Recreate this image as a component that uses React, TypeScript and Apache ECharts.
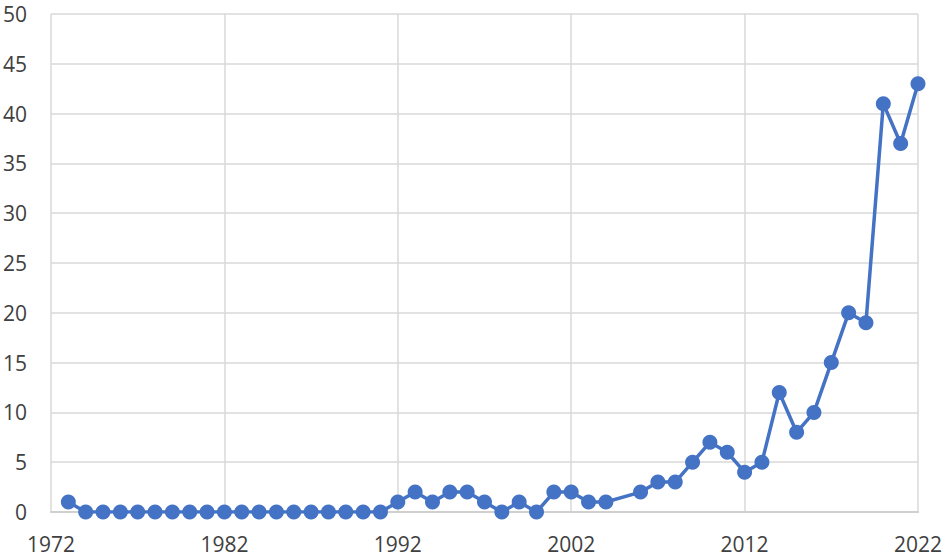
import React, { useEffect, useRef } from "react";
import * as echarts from "echarts";

const years = [
  1973, 1974, 1975, 1976, 1977, 1978, 1979, 1980, 1981, 1982, 1983, 1984, 1985, 1986, 1987, 1988, 1989, 1990, 1991,
  1992, 1993, 1994, 1995, 1996, 1997, 1998, 1999, 2000, 2001, 2002, 2003, 2004, 2006, 2007, 2008, 2009, 2010,
  2011, 2012, 2013, 2014, 2015, 2016, 2017, 2018, 2019, 2020, 2021, 2022,
];
const counts = [
  1, 0, 0, 0, 0, 0, 0, 0, 0, 0, 0, 0, 0, 0, 0, 0, 0, 0, 0,
  1, 2, 1, 2, 2, 1, 0, 1, 0, 2, 2, 1, 1, 2, 3, 3, 5, 7,
  6, 4, 5, 12, 8, 10, 15, 20, 19, 41, 37, 43,
];

export default function App() {
  const ref = useRef<HTMLDivElement>(null);
  useEffect(() => {
    if (!ref.current) return;
    const chart = echarts.init(ref.current, undefined, { renderer: "svg" });
    const font = { fontFamily: "Open Sans", fontSize: 21, color: "#404040" };
    chart.setOption({
      animation: false,
      grid: { left: 50, right: 27, top: 14, bottom: 44, containLabel: false },
      xAxis: {
        type: "value",
        min: 1972,
        max: 2022,
        interval: 10,
        axisLine: { show: true, lineStyle: { color: "#d0d0d0", width: 2 } },
        axisTick: { show: false },
        axisLabel: { ...font, margin: 21, formatter: (v: number) => String(v) },
        splitLine: { show: true, lineStyle: { color: "#d9d9d9", width: 1.5 } },
      },
      yAxis: {
        type: "value",
        min: 0,
        max: 50,
        interval: 5,
        axisLine: { show: false },
        axisTick: { show: false },
        axisLabel: { ...font, margin: 24 },
        splitLine: { show: true, lineStyle: { color: "#d9d9d9", width: 1.5 } },
      },
      series: [
        {
          type: "line",
          data: years.map((y, i) => [y, counts[i]]),
          symbol: "circle",
          symbolSize: 15,
          lineStyle: { color: "#4472C4", width: 3.5 },
          itemStyle: { color: "#4472C4" },
        },
      ],
    });
    return () => chart.dispose();
  }, []);
  return (
    <div
      ref={ref}
      style={{ position: "fixed", left: 0, top: 0, width: 945, height: 556, background: "#fff" }}
    />
  );
}
